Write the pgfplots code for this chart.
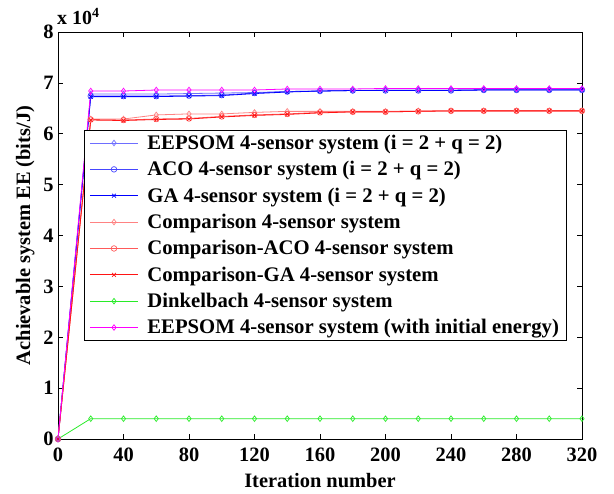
\documentclass[border=0pt]{standalone}
\usepackage{pgfplots}
\pgfplotsset{compat=1.18}
\usepackage{fontspec}
\setmainfont{Liberation Serif}
\definecolor{eblue}{RGB}{110,110,255}
\definecolor{ablue}{RGB}{70,70,255}
\definecolor{gblue}{RGB}{0,0,255}
\definecolor{cred}{RGB}{255,130,130}
\definecolor{ared}{RGB}{255,90,90}
\definecolor{gred}{RGB}{255,20,20}
\definecolor{dgreen}{RGB}{40,235,40}
\definecolor{emag}{RGB}{255,0,255}
\begin{document}
\begin{tikzpicture}
\useasboundingbox (-58bp,-55bp) rectangle (556bp,439bp);
\begin{axis}[
  at={(0,0)}, anchor=south west,
  scale only axis, width=524bp, height=407bp,
  xmin=0, xmax=320, ymin=0, ymax=8,
  xtick={0,40,...,320}, ytick={0,1,...,8},
  tick align=inside, major tick length=5bp,
  tick style={black, line width=0.6pt},
  axis line style={line width=0.8pt},
  ticklabel style={font=\fontsize{20.5}{22}\selectfont\bfseries},
  xticklabel style={yshift=-5bp},
  yticklabel style={xshift=-1bp},
  /pgf/number format/assume math mode=true,
  label style={font=\fontsize{20.5}{22}\selectfont\bfseries},
  xlabel={Iteration number},
  ylabel={Achievable system EE (bits/J)},
  xlabel style={yshift=-5bp},
  ylabel style={yshift=2bp},
  clip=false,
  legend cell align=left,
  legend style={at={(0.05,0.76)}, anchor=north west, draw=black, line width=0.8pt,
    font=\fontsize{20.8}{22}\selectfont\bfseries, row sep=6.5bp, inner xsep=5bp, inner ysep=3bp},
  legend image code/.code={\draw[mark repeat=2,mark phase=2] plot coordinates {(0bp,0bp) (24bp,0bp) (48bp,0bp)}; \path (55bp,0bp);},
  every axis plot/.append style={line width=0.8pt, mark size=2.8pt, mark options={solid, line width=0.7pt}},
]
\addplot[color=eblue, mark=diamond] coordinates {
(0,0) (20,6.78) (40,6.78) (60,6.78) (80,6.79) (100,6.80) (120,6.81) (140,6.83) (160,6.84) (180,6.85) (200,6.86) (220,6.86) (240,6.86) (260,6.87) (280,6.87) (300,6.87) (320,6.87)};
\addlegendentry{EEPSOM 4-sensor system (i = 2 + q = 2)}
\addplot[color=ablue, mark=o] coordinates {
(0,0) (20,6.74) (40,6.74) (60,6.74) (80,6.75) (100,6.76) (120,6.80) (140,6.83) (160,6.84) (180,6.85) (200,6.85) (220,6.85) (240,6.85) (260,6.86) (280,6.86) (300,6.86) (320,6.86)};
\addlegendentry{ACO 4-sensor system (i = 2 + q = 2)}
\addplot[color=gblue, mark=x] coordinates {
(0,0) (20,6.73) (40,6.73) (60,6.73) (80,6.74) (100,6.75) (120,6.79) (140,6.82) (160,6.84) (180,6.85) (200,6.85) (220,6.85) (240,6.85) (260,6.86) (280,6.86) (300,6.86) (320,6.86)};
\addlegendentry{GA 4-sensor system (i = 2 + q = 2)}
\addplot[color=cred, mark=diamond] coordinates {
(0,0) (20,6.29) (40,6.29) (60,6.37) (80,6.39) (100,6.39) (120,6.42) (140,6.44) (160,6.44) (180,6.44) (200,6.44) (220,6.45) (240,6.45) (260,6.45) (280,6.45) (300,6.45) (320,6.45)};
\addlegendentry{Comparison 4-sensor system}
\addplot[color=ared, mark=o] coordinates {
(0,0) (20,6.28) (40,6.27) (60,6.29) (80,6.30) (100,6.34) (120,6.37) (140,6.39) (160,6.42) (180,6.43) (200,6.43) (220,6.44) (240,6.45) (260,6.45) (280,6.45) (300,6.45) (320,6.45)};
\addlegendentry{Comparison-ACO 4-sensor system}
\addplot[color=gred, mark=x] coordinates {
(0,0) (20,6.27) (40,6.26) (60,6.28) (80,6.29) (100,6.33) (120,6.36) (140,6.38) (160,6.41) (180,6.43) (200,6.43) (220,6.44) (240,6.45) (260,6.45) (280,6.45) (300,6.45) (320,6.45)};
\addlegendentry{Comparison-GA 4-sensor system}
\addplot[color=dgreen, mark=diamond] coordinates {
(0,0) (20,0.40) (40,0.40) (60,0.40) (80,0.40) (100,0.40) (120,0.40) (140,0.40) (160,0.40) (180,0.40) (200,0.40) (220,0.40) (240,0.40) (260,0.40) (280,0.40) (300,0.40) (320,0.40)};
\addlegendentry{Dinkelbach 4-sensor system}
\addplot[color=emag, mark=diamond] coordinates {
(0,0) (20,6.84) (40,6.84) (60,6.86) (80,6.86) (100,6.86) (120,6.86) (140,6.88) (160,6.88) (180,6.88) (200,6.89) (220,6.89) (240,6.89) (260,6.89) (280,6.89) (300,6.89) (320,6.89)};
\addlegendentry{EEPSOM 4-sensor system (with initial energy)}
\node[anchor=south west, inner sep=0pt, font=\fontsize{20}{22}\selectfont\bfseries] at (rel axis cs:0,1) [yshift=7bp, xshift=-1bp] {x 10\textsuperscript{4}};
\end{axis}
\end{tikzpicture}
\end{document}
